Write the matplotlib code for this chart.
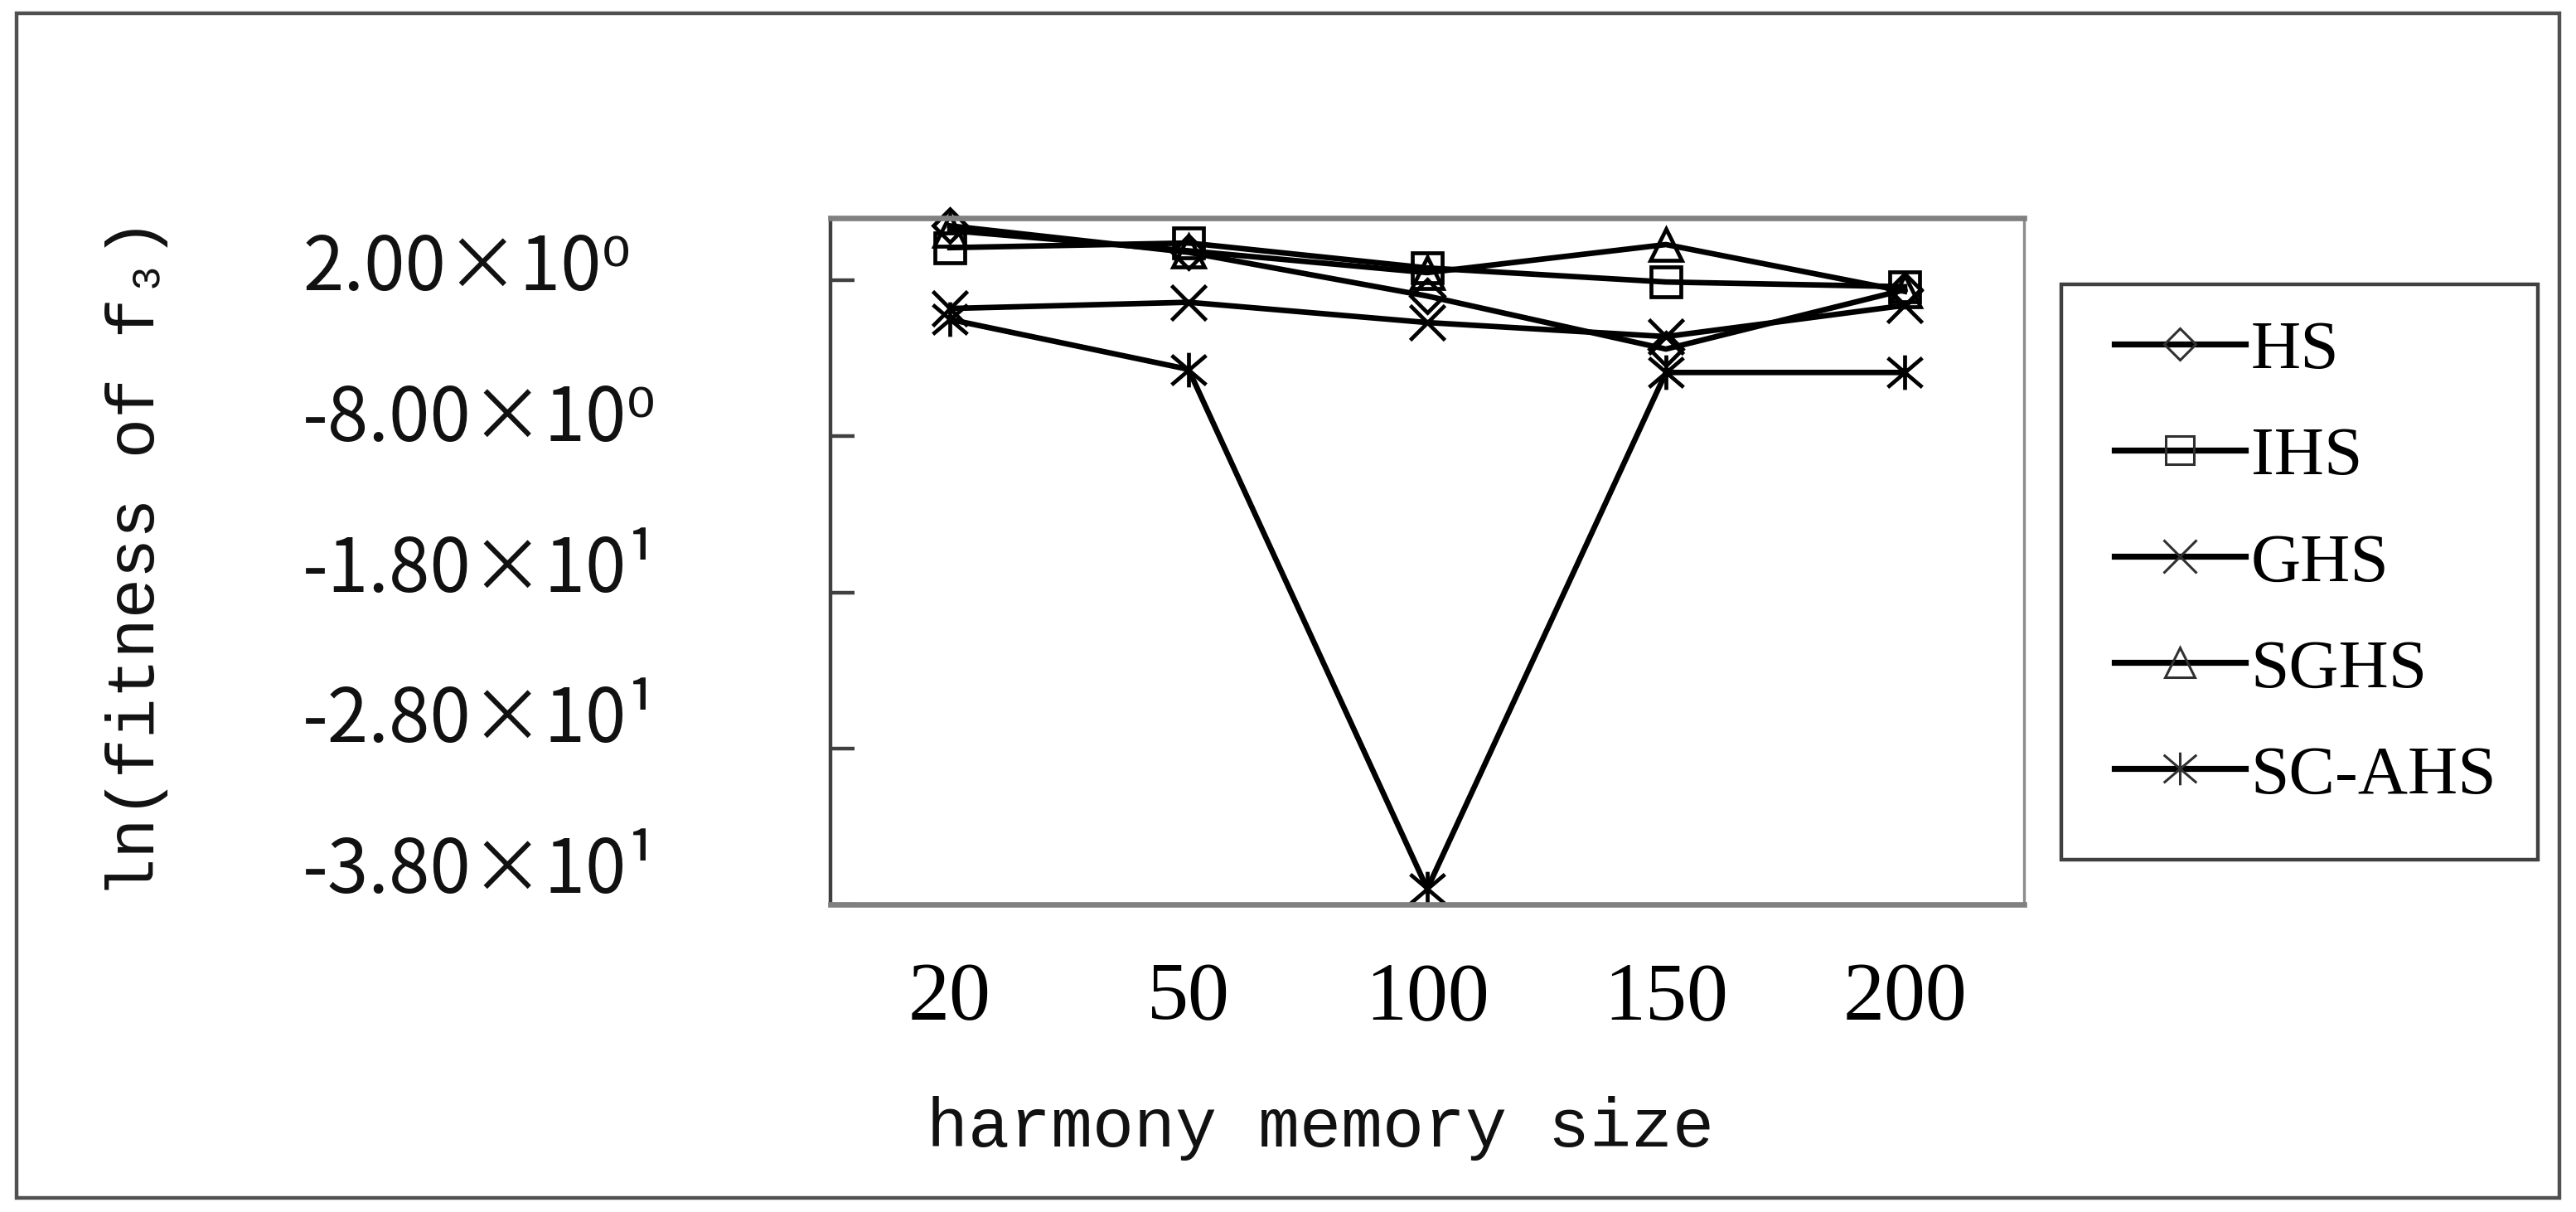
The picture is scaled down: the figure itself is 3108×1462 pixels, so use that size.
import matplotlib
matplotlib.use('Agg')
import matplotlib.pyplot as plt
from matplotlib.path import Path
from matplotlib.patches import Rectangle
from matplotlib.transforms import blended_transform_factory, ScaledTranslation
from matplotlib.lines import Line2D

# ---------------- data ----------------
categories = ['20', '50', '100', '150', '200']
hs    = [5.5, 3.8, 1.0, -2.4, 1.4]
ihs   = [4.1, 4.4, 2.8, 1.9, 1.6]
ghs   = [0.2, 0.6, -0.7, -1.6, 0.4]
sghs  = [5.2, 3.9, 2.5, 4.3, 1.3]
scahs = [-0.5, -3.7, -37.0, -3.9, -3.9]
series_names = ['HS', 'IHS', 'GHS', 'SGHS', 'SC-AHS']
ytick_values = [2, -8, -18, -28, -38]
ytick_labels = ['2.00\u00d710\u2070', '-8.00\u00d710\u2070', '-1.80\u00d710\u00b9',
                '-2.80\u00d710\u00b9', '-3.80\u00d710\u00b9']
xlabel = 'harmony memory size'
ylabel = 'ln(fitness of f\u2083)'

# ---------------- figure ----------------
W, H, DPI = 3108, 1462, 200
fig = plt.figure(figsize=(W / DPI, H / DPI), dpi=DPI)
fig.patch.set_facecolor('white')

ax = fig.add_axes([1002 / W, 1 - 1091 / H, (2442 - 1002) / W, (1091 - 263) / H])

star = Path([(-1, -0.85), (1, 0.85), (-1, 0.85), (1, -0.85), (0, -1), (0, 1)],
            [Path.MOVETO, Path.LINETO, Path.MOVETO, Path.LINETO, Path.MOVETO, Path.LINETO])

styles = [
    dict(marker='D', ms=10),
    dict(marker='s', ms=13),
    dict(marker='x', ms=15),
    dict(marker='^', ms=14),
    dict(marker=star, ms=15),
]
all_series = [hs, ihs, ghs, sghs, scahs]
xs = list(range(len(categories)))
handles = []
for name, vals, st in zip(series_names, all_series, styles):
    ax.plot(xs, vals, color='black', lw=2.4, marker=st['marker'], ms=st['ms'],
            mfc='none', mec='black', mew=1.7, clip_on=False, label=name)
    handles.append(Line2D([0], [0], color='black', lw=2.6, marker=st['marker'],
                          ms=st['ms'] * 0.95, mfc='none', mec='#303030', mew=1.1))

ax.set_xlim(-0.5, 4.5)
ax.set_ylim(-38, 6)

# spines
ax.spines['top'].set_color('#808080')
ax.spines['top'].set_linewidth(2.4)
ax.spines['bottom'].set_color('#808080')
ax.spines['bottom'].set_linewidth(2.4)
ax.spines['right'].set_color('#8c8c8c')
ax.spines['right'].set_linewidth(1.2)
ax.spines['left'].set_color('#404040')
ax.spines['left'].set_linewidth(1.6)

# y ticks (labels drawn manually, left aligned, drifting slightly as in the original)
ax.set_yticks(ytick_values)
ax.tick_params(axis='y', direction='in', length=10.5, width=1.6, color='#404040',
               left=True, right=False, labelleft=False)
base = blended_transform_factory(fig.transFigure, ax.transData)
for i, (v, lab) in enumerate(zip(ytick_values, ytick_labels)):
    off_px = 12 - 6.5 * i
    tr = base + ScaledTranslation(0, -off_px / DPI, fig.dpi_scale_trans)
    fig.text(365 / W, v, lab, transform=tr, ha='left', va='baseline',
             fontsize=32, family=['Noto Sans CJK SC', 'DejaVu Sans'], color='#111111')

# x ticks
ax.set_xticks(xs)
ax.set_xticklabels(categories, family='Liberation Serif', fontsize=36)
ax.tick_params(axis='x', length=0, pad=25)

# axis titles
fig.text(165 / W, 1 - 673 / H, ylabel, rotation=90, ha='center', va='center',
         fontsize=29, family=['Liberation Mono', 'DejaVu Sans Mono'], color='#111111')
fig.text(1593 / W, 1 - 1383 / H, xlabel, ha='center', va='baseline',
         fontsize=30, family=['Liberation Mono', 'DejaVu Sans Mono'], color='#111111')

# legend
fs = 30
fs_px = fs * DPI / 72
fig.legend(handles, series_names, loc='upper left',
           bbox_to_anchor=(2551 / W, 1 - 386 / H), bbox_transform=fig.transFigure,
           frameon=False, handlelength=158 / fs_px, handletextpad=0.08,
           labelspacing=0.62, borderpad=0, borderaxespad=0,
           prop=dict(family='Liberation Serif', size=fs))
fig.patches.append(Rectangle((2487 / W, 1 - 1037 / H), (3062 - 2487) / W, (1037 - 343) / H,
                             transform=fig.transFigure, fill=False, ec='#404040', lw=1.6))

# outer border
fig.patches.append(Rectangle((20 / W, 1 - 1445 / H), (3088 - 20) / W, (1445 - 16) / H,
                             transform=fig.transFigure, fill=False, ec='#505050', lw=1.6))

fig.savefig('out.png', dpi=DPI)
